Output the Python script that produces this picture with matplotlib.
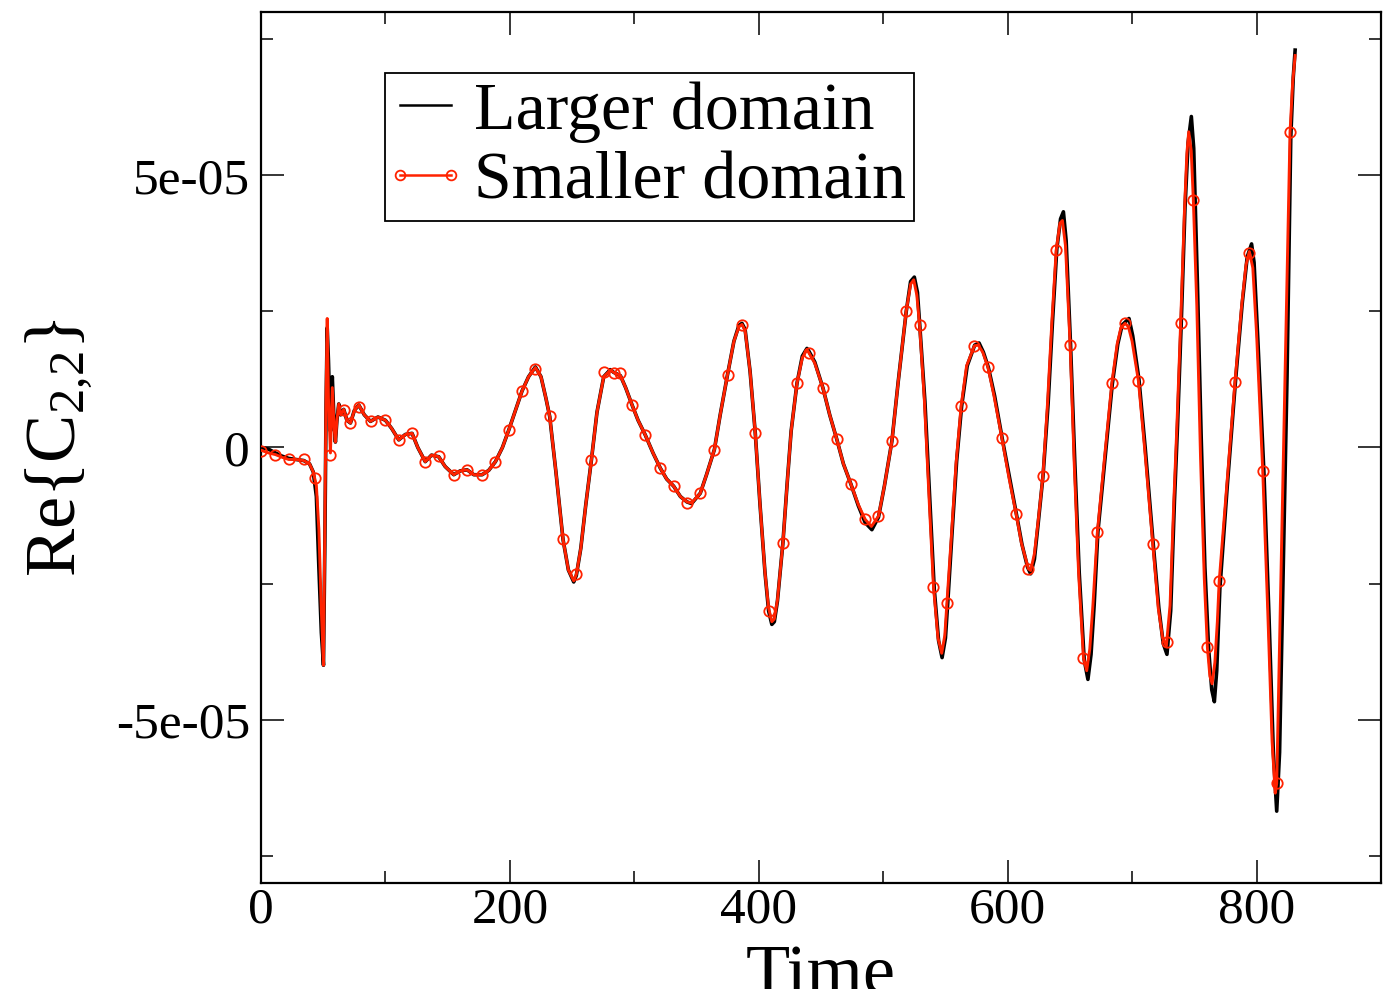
import matplotlib
matplotlib.use("Agg")
import numpy as np
import matplotlib.pyplot as plt
from matplotlib.lines import Line2D
from matplotlib.legend_handler import HandlerLine2D
from matplotlib.ticker import FixedLocator, MultipleLocator

# values of Re{C_2,2} are stored in units of 1e-5
SCALE = 1e-5

# smaller-domain run: dense line samples
RED_T = [
    0, 6, 11.6, 17, 22.3, 28, 34.4, 39, 42, 44.5, 46.5, 48.5, 50.2, 51.3, 52.3,
    53.2, 54.2, 55.8, 57.3, 58.8, 59.8, 61, 62.5, 64, 66.5, 69, 71.9, 75, 78.6,
    83, 88, 94, 100, 105, 110.7, 116, 121.4, 126, 132, 137, 142.8, 148, 154.9,
    160, 165.6, 171, 177.7, 183, 188.4, 194, 199.1, 204, 209.8, 215, 220.5, 225,
    229, 232, 237, 242.7, 247, 251.3, 253.4, 257, 261, 265.5, 270, 275.4, 280.7,
    283.4, 288.8, 293, 298.2, 303, 308.8, 315, 320.9, 326, 331.6, 337, 342.3,
    346, 353, 358, 364.3, 369, 374.9, 380, 384, 386.5, 389, 393, 397.2, 401, 405,
    407.9, 410.5, 412.5, 415, 419.4, 423, 426, 430.7, 435, 438.7, 440, 445, 451.6,
    457, 462.7, 468, 474, 480, 485.5, 490.5, 496.2, 501, 507, 512, 518.5, 522,
    524.5, 527, 529.2, 533, 537, 540.4, 544, 547, 549.5, 551.2, 555, 558.5, 562.6,
    567, 573.3, 576.5, 580, 584.1, 589, 595.3, 601, 606.8, 611, 616.7, 618.5,
    621.5, 624.5, 628.3, 632, 635.5, 639, 642, 644, 646.5, 650.2, 653.5, 657,
    660.9, 663.5, 666, 668.5, 672.1, 678, 683.7, 688, 691, 694.4, 697, 700, 705.1,
    710, 716.6, 721, 724.5, 727.5, 730.5, 733.5, 736, 739, 742, 744, 745.5, 747.5,
    749.2, 752, 755, 758, 760.5, 762.5, 764.3, 766.5, 768.5, 770, 776, 782.7, 788,
    791.5, 794.2, 797, 800, 805, 809, 812.5, 815, 816.2, 818, 821, 824, 826.9,
    829, 831,
]
RED_Y = [
    -0.05, -0.10, -0.13, -0.18, -0.22, -0.22, -0.24, -0.30, -0.45, -0.70, -1.5,
    -3.0, -4.0, -1.5, 1.0, 2.37, 0.9, -0.10, 1.10, 0.35, 0.10, 0.50, 0.80, 0.60,
    0.70, 0.50, 0.45, 0.68, 0.78, 0.60, 0.48, 0.56, 0.50, 0.35, 0.14, 0.24, 0.26,
    0.0, -0.26, -0.14, -0.17, -0.35, -0.50, -0.43, -0.41, -0.50, -0.50, -0.42,
    -0.26, 0.0, 0.32, 0.65, 1.04, 1.30, 1.47, 1.30, 0.90, 0.57, -0.45, -1.69,
    -2.25, -2.45, -2.33, -1.85, -1.05, -0.23, 0.65, 1.30, 1.42, 1.38, 1.32, 1.10,
    0.78, 0.50, 0.23, -0.10, -0.38, -0.58, -0.71, -0.90, -1.00, -1.02, -0.84,
    -0.50, -0.04, 0.60, 1.34, 1.95, 2.22, 2.26, 2.15, 1.40, 0.26, -1.05, -2.30,
    -2.95, -3.20, -3.15, -2.80, -1.75, -0.60, 0.30, 1.18, 1.65, 1.80, 1.75, 1.55,
    1.09, 0.60, 0.15, -0.30, -0.67, -1.05, -1.32, -1.45, -1.26, -0.70, 0.12, 1.20,
    2.51, 3.00, 3.08, 2.80, 2.25, 0.90, -1.00, -2.56, -3.50, -3.78, -3.45, -2.85,
    -1.55, -0.30, 0.76, 1.50, 1.87, 1.88, 1.75, 1.48, 0.95, 0.18, -0.55, -1.22,
    -1.75, -2.23, -2.26, -1.95, -1.35, -0.53, 0.80, 2.30, 3.62, 4.12, 4.17, 3.70,
    1.88, -0.30, -2.30, -3.86, -4.10, -3.70, -2.90, -1.55, -0.15, 1.18, 1.90, 2.20,
    2.28, 2.22, 1.95, 1.22, 0.0, -1.78, -2.95, -3.50, -3.65, -2.90, -1.00, 0.40,
    2.28, 4.30, 5.40, 5.80, 5.45, 4.55, 2.60, -0.20, -2.40, -3.67, -4.20, -4.34,
    -3.95, -3.20, -2.45, -0.72, 1.21, 2.60, 3.35, 3.60, 3.30, 2.10, -0.44, -3.00,
    -5.40, -6.35, -6.17, -4.15, -0.80, 2.60, 5.79, 6.70, 7.20,
]

# smaller-domain run: samples carrying a circle symbol
MARK_T = [
    0, 11.6, 22.3, 34.4, 43.6, 55.8, 66.5, 71.9, 78.6, 88, 100, 110.7, 121.4,
    132, 142.8, 154.9, 165.6, 177.7, 188.4, 199.1, 209.8, 220.5, 232, 242.7,
    253.4, 265.5, 275.4, 283.4, 288.8, 298.2, 308.8, 320.9, 331.6, 342.3, 353,
    364.3, 374.9, 386.5, 397.2, 407.9, 419.4, 430.7, 440, 451.6, 462.7, 474,
    485.5, 496.2, 507, 518.5, 529.2, 540.4, 551.2, 562.6, 573.3, 584.1, 595.3,
    606.8, 616.7, 628.3, 639, 650.2, 660.9, 672.1, 683.7, 694.4, 705.1, 716.6,
    727.9, 739, 749.2, 760.5, 770, 782.7, 794.2, 805, 816.2, 826.9,
]
MARK_Y = [
    -0.07, -0.13, -0.22, -0.22, -0.56, -0.13, 0.69, 0.45, 0.75, 0.48, 0.51, 0.14,
    0.26, -0.26, -0.16, -0.50, -0.41, -0.50, -0.26, 0.32, 1.04, 1.45, 0.57, -1.69,
    -2.33, -0.23, 1.39, 1.36, 1.36, 0.78, 0.23, -0.38, -0.71, -1.02, -0.84, -0.04,
    1.34, 2.25, 0.26, -3.00, -1.75, 1.18, 1.73, 1.09, 0.15, -0.67, -1.32, -1.26,
    0.12, 2.51, 2.25, -2.56, -2.85, 0.76, 1.87, 1.48, 0.18, -1.22, -2.23, -0.53,
    3.62, 1.88, -3.86, -1.55, 1.18, 2.28, 1.22, -1.78, -3.57, 2.28, 4.55, -3.67,
    -2.45, 1.21, 3.58, -0.44, -6.17, 5.79,
]

# larger-domain run
BLACK_T = [
    0, 6, 11.6, 17, 22.3, 28, 34.4, 39, 42, 44.5, 46.5, 48.5, 50.2, 51.3, 52.3,
    53.2, 54.2, 55.8, 57.3, 58.8, 59.8, 61, 62.5, 64, 66.5, 69, 71.9, 75, 78.6,
    83, 88, 94, 100, 105, 110.7, 116, 121.4, 126, 132, 137, 142.8, 148, 154.9,
    160, 165.6, 171, 177.7, 183, 188.4, 194, 199.1, 204, 209.8, 215, 220.5, 225,
    229, 232, 237, 242.7, 247, 251.3, 253.4, 257, 261, 265.5, 270, 275.4, 280.7,
    283.4, 288.8, 293, 298.2, 303, 308.8, 315, 320.9, 326, 331.6, 337, 342.3,
    346, 353, 358, 364.3, 369, 374.9, 380, 384, 386.5, 389, 393, 397.2, 401, 405,
    407.9, 410.5, 412.5, 415, 419.4, 423, 426, 430.7, 435, 438.7, 440, 445, 451.6,
    457, 462.7, 468, 474, 480, 485.5, 490.9, 496.2, 501, 507, 512, 518.5, 522,
    525, 527.5, 529.5, 533.5, 537.5, 541, 544.5, 547.3, 550, 552, 555.5, 559, 563,
    567.5, 573.5, 577, 580.5, 584.5, 589.5, 595.5, 601.5, 607, 611.5, 616, 618.5,
    621.5, 624.5, 628.5, 632.5, 636, 639.5, 642.5, 644.8, 647, 650.5, 654, 657.5,
    661.5, 664.5, 667, 669.5, 672.5, 678.5, 684, 688.5, 692, 697.5, 700.5, 705.5,
    710.5, 717, 721.5, 725, 728, 731, 734, 736.5, 739.5, 742.5, 745, 747.6, 749.5,
    752.5, 755.5, 758.5, 761.5, 764, 766.1, 768, 770.5, 776.5, 783, 788.5, 792.5,
    796, 798, 801, 806, 810, 813.5, 816.2, 818.5, 821.5, 824.5, 827.5, 829.5, 831,
]
BLACK_Y = [
    0.0, -0.03, -0.10, -0.16, -0.20, -0.22, -0.24, -0.30, -0.45, -0.90, -2.2,
    -3.4, -4.0, -1.8, 0.8, 2.2, 1.6, 0.30, 1.30, 0.40, 0.10, 0.50, 0.80, 0.60,
    0.70, 0.50, 0.45, 0.68, 0.78, 0.60, 0.48, 0.56, 0.50, 0.35, 0.14, 0.24, 0.26,
    0.0, -0.26, -0.14, -0.17, -0.35, -0.50, -0.43, -0.41, -0.50, -0.50, -0.42,
    -0.26, 0.0, 0.32, 0.65, 1.04, 1.30, 1.48, 1.30, 0.90, 0.57, -0.45, -1.69,
    -2.25, -2.47, -2.35, -1.85, -1.05, -0.23, 0.65, 1.30, 1.43, 1.38, 1.32, 1.10,
    0.78, 0.50, 0.23, -0.10, -0.38, -0.58, -0.71, -0.90, -1.00, -1.03, -0.84,
    -0.50, -0.04, 0.60, 1.34, 1.95, 2.24, 2.28, 2.17, 1.40, 0.26, -1.05, -2.30,
    -3.00, -3.25, -3.20, -2.82, -1.75, -0.60, 0.30, 1.18, 1.68, 1.82, 1.78, 1.57,
    1.09, 0.60, 0.15, -0.30, -0.67, -1.07, -1.38, -1.51, -1.28, -0.70, 0.12, 1.20,
    2.50, 3.05, 3.13, 2.85, 2.20, 0.85, -1.00, -2.60, -3.55, -3.86, -3.50, -2.80,
    -1.50, -0.25, 0.76, 1.50, 1.88, 1.92, 1.75, 1.47, 0.95, 0.18, -0.55, -1.22,
    -1.78, -2.20, -2.32, -2.05, -1.40, -0.50, 0.80, 2.30, 3.65, 4.20, 4.33, 3.80,
    1.90, -0.30, -2.30, -3.90, -4.26, -3.80, -2.90, -1.55, -0.15, 1.15, 1.90, 2.25,
    2.37, 2.05, 1.25, 0.0, -1.78, -2.95, -3.60, -3.80, -3.00, -1.00, 0.40, 2.30,
    4.40, 5.60, 6.08, 5.50, 3.00, 0.20, -2.20, -3.70, -4.45, -4.67, -4.10, -2.60,
    -0.70, 1.20, 2.65, 3.50, 3.74, 3.40, 2.00, -0.50, -3.10, -5.60, -6.68, -5.60,
    -2.20, 1.30, 5.70, 6.80, 7.30,
]

LABELS = ["Larger domain", "Smaller domain"]
XTICKS = [0, 200, 400, 600, 800]
YTICKS = [-5e-05, 0, 5e-05]
YTICK_LABELS = ["-5e-05", "0", "5e-05"]

RED = "#ff2200"

plt.rcParams["font.family"] = ["Liberation Serif", "DejaVu Serif"]
plt.rcParams["mathtext.fontset"] = "custom"
plt.rcParams["mathtext.rm"] = "Liberation Serif"
plt.rcParams["mathtext.default"] = "regular"


def main():
    fig = plt.figure(figsize=(13.83, 9.89), dpi=100)
    ax = fig.add_axes([0.18872, 0.10718, 0.80983, 0.88069])

    ax.plot(BLACK_T, np.array(BLACK_Y) * SCALE, color="black", lw=2.6,
            solid_joinstyle="round", zorder=2)
    ax.plot(RED_T, np.array(RED_Y) * SCALE, color=RED, lw=2.1,
            solid_joinstyle="round", zorder=3)
    ax.plot(MARK_T, np.array(MARK_Y) * SCALE, ls="none", marker="o",
            ms=7.5, mfc="none", mec=RED, mew=1.3, zorder=4)

    ax.set_xlim(0, 900)
    ax.set_ylim(-8e-05, 8e-05)
    ax.xaxis.set_major_locator(FixedLocator(XTICKS))
    ax.xaxis.set_minor_locator(MultipleLocator(100))
    ax.yaxis.set_major_locator(FixedLocator(YTICKS))
    ax.yaxis.set_minor_locator(MultipleLocator(2.5e-05))
    ax.set_xticklabels([str(v) for v in XTICKS])
    ax.set_yticklabels(YTICK_LABELS)

    ax.tick_params(which="both", direction="in", top=True, right=True,
                   width=1.1, labelsize=37)
    ax.tick_params(which="major", length=16.5)
    ax.tick_params(which="minor", length=8.5)
    ax.tick_params(axis="x", which="major", pad=3)
    ax.tick_params(axis="y", which="major", pad=8)
    for side in ax.spines:
        ax.spines[side].set_linewidth(1.6)

    ax.set_xlabel("Time", fontsize=52)
    ax.xaxis.set_label_coords(0.5, -0.071)
    ax.set_ylabel("Re{C$_{2{,}2}$}", fontsize=52)
    ax.yaxis.set_label_coords(-0.148, 0.5)

    handles = [
        Line2D([], [], color="black", lw=1.8),
        Line2D([], [], color=RED, lw=1.8, marker="o", ms=7, mfc="none",
               mec=RED, mew=1.3),
    ]
    leg = ax.legend(handles, LABELS, loc="upper left",
                    bbox_to_anchor=(0.1107, 0.930), borderaxespad=0,
                    fontsize=49, numpoints=2, handlelength=0.95,
                    handletextpad=0.24, borderpad=0.12, labelspacing=0.12,
                    fancybox=False, framealpha=1, edgecolor="black",
                    handler_map={Line2D: HandlerLine2D(marker_pad=0.1)})
    leg.get_frame().set_linewidth(1.3)

    fig.savefig("out.png", dpi=100)
    plt.close(fig)


if __name__ == "__main__":
    main()
